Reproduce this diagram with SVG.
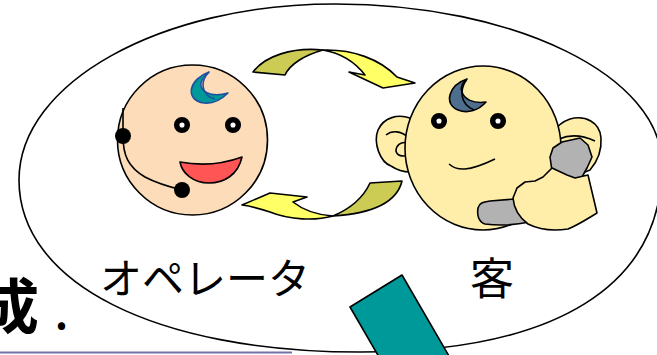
<svg xmlns="http://www.w3.org/2000/svg" width="657" height="355" viewBox="0 0 657 355">
  <style>
    .ln { stroke: #000; stroke-width: 1.6; stroke-linejoin: round; }
    .eye { fill: #fff; stroke: #000; stroke-width: 5.5; }
    .olive { fill: #CCCC55; }
    .yel { fill: #FFFF66; }
    .jp { font-family: "Noto Sans CJK JP", "Noto Sans CJK SC", sans-serif; fill: #000; }
  </style>
  <rect width="657" height="355" fill="#fff"/>

  <!-- slide underline -->
  <line x1="0" y1="352.5" x2="292" y2="352.5" stroke="#7272A8" stroke-width="2"/>

  <!-- heading fragment -->
  <text class="jp" x="-21" y="329" font-size="60" font-weight="bold">成<tspan x="55" font-size="40">.</tspan></text>

  <!-- enclosing oval -->
  <path id="oval" class="ln" fill="#fff" stroke-width="2"
        d="M 19 180 C 19 83 160 4 335 4 C 515 4 662 76 662 165 C 662 286 556 352 360 352 C 155 352 19 283 19 180 Z"/>

  <!-- operator -->
  <g id="operator">
    <circle class="ln" cx="192.5" cy="140" r="75" fill="#FDDCB9"/>
    <path d="M 209 72 C 189 79 184 100 204 103 C 215 104 222 99 228 93 C 215 97 203 94 201 86 C 200 80 204 76 209 72 Z"
          fill="#009999" stroke="#2050A0" stroke-width="1.6" stroke-linejoin="round"/>
    <path d="M 209 72 C 199 82 202 96 215 99" fill="none" stroke="#2050A0" stroke-width="1.6"/>
    <circle class="eye" cx="182" cy="125" r="5.3"/>
    <circle class="eye" cx="233" cy="125" r="5.3"/>
    <path class="ln" fill="#FF5555"
          d="M 180 162 Q 212 168 242 157 C 238 175 224 183 209 183 C 193 183 182 173 180 162 Z"/>
    <path class="ln" fill="none" d="M 123 108 L 123 136 C 123 155 128 167 145 177 C 158 184 170 187 182 190"/>
    <circle cx="123" cy="136" r="8"/>
    <circle cx="182" cy="190" r="8"/>
  </g>

  <!-- customer -->
  <g id="customer">
    <path class="ln" fill="#FFEEAA" d="M 410 118 C 398 114 384 117 378 130 C 373 143 380 162 391 166 C 397 170 403 172 410 172 Z"/>
    <path class="ln" fill="none" d="M 386 135 C 392 130 401 131 408 137"/>
    <path class="ln" fill="none" d="M 408 143 C 400 141 396 146 396 151 C 397 156 403 157 408 155"/>
    <path class="ln" fill="#FFEEAA" d="M 552 150 C 548 136 556 124 570 119 C 585 115 600 122 601 138 C 602 152 596 163 590 170 L 575 176 Z"/>
    <path class="ln" fill="none" d="M 559 139 C 568 135 580 134 595 141"/>
    <ellipse class="ln" cx="483" cy="148" rx="78" ry="82" fill="#FFEEAA"/>
    <path class="ln" fill="#4E6E8E" d="M 467 79 C 449 85 443 104 458 110 C 468 114 479 110 486 102 C 473 104 464 99 462 92 C 460 87 462 83 467 79 Z"/>
    <path class="ln" fill="none" d="M 467 79 C 459 90 460 104 474 110"/>
    <circle class="eye" cx="439" cy="121" r="5.3"/>
    <circle class="eye" cx="498" cy="121" r="5.3"/>
    <path class="ln" fill="none" d="M 449 164 C 457 171 468 172 495 159"/>
    <path class="ln" fill="#B2B2B2" d="M 550 157 L 553 148 L 562 142 L 580 138 L 588 145 L 592 157 L 587 168 L 582 177 L 573 180 L 552 171 Z"/>
    <path class="ln" fill="#B2B2B2" d="M 478 208 C 479 203 483 202 490 201 L 515 199 L 530 222 C 515 225 500 226 485 224 C 478 222 477 214 478 208 Z"/>
    <path class="ln" fill="#FFEEAA" d="M 513 198 L 517 188 L 525 182 L 535 181 L 543 177 L 552 168 L 567 175 L 575 178 L 588 175 L 597 213 C 590 217 580 224 568 229 C 555 231 540 230 528 224 C 520 218 514 210 513 198 Z"/>
  </g>

  <!-- exchange arrows -->
  <g id="connectors">
    <path class="ln olive" d="M 253 72 C 265 56 292 47 323 50 C 305 55 290 64 285 75 Z"/>
    <path class="ln yel" d="M 323 50 C 352 49 380 59 397 77 L 415 83 L 383 88 L 349 72 L 365 75 C 355 62 340 53 323 50 Z"/>
    <path class="ln yel" d="M 242 205 L 270 193 L 307 197 L 293 202 C 303 210 318 215 333 216 C 315 221 290 220 270 212 C 258 208 250 206 242 205 Z"/>
    <path class="ln olive" d="M 333 216 C 352 208 364 196 370 183 L 402 181 C 398 198 380 213 333 216 Z"/>
  </g>

  <!-- labels -->
  <g id="labels">
    <text class="jp" x="100" y="294" font-size="42">オペレータ</text>
    <text class="jp" x="470" y="295" font-size="44">客</text>
  </g>

  <!-- teal bar -->
  <polygon id="bar" class="ln" fill="#009999" points="350,307 402,275 460,375 408,407"/>
</svg>
